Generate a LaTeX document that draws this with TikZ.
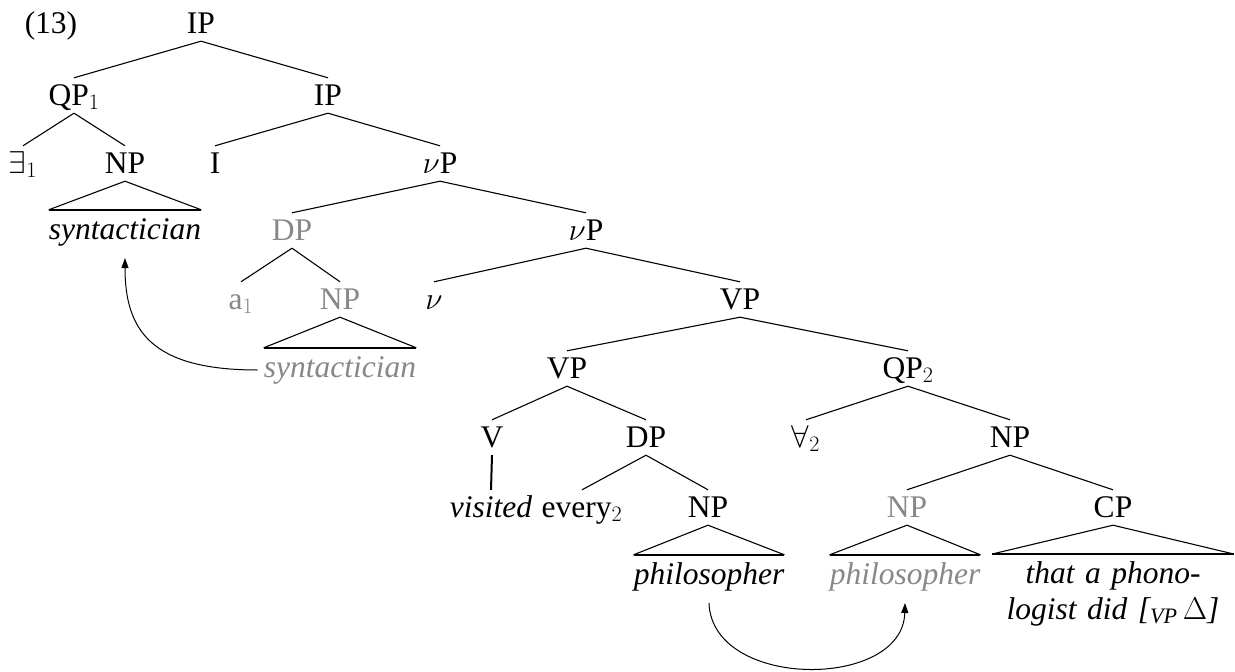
\RequirePackage{fix-cm}
\documentclass[tikz,border=0pt]{standalone}
\usepackage{fontspec}
\setmainfont{Liberation Serif}
\usetikzlibrary{arrows.meta}
\definecolor{trace}{RGB}{136,136,136}

\begin{document}
\begin{tikzpicture}[x=1pt,y=-1pt,
  lab/.style={font=\fontsize{31.5}{36}\selectfont, inner xsep=1pt, inner ysep=8pt,
              text height=19pt, text depth=0pt, anchor=base},
  leaf/.style={font=\fontsize{31.5}{36}\selectfont\itshape, inner sep=0pt,
               text height=29pt, text depth=8pt, anchor=base},
  dim/.style={text=trace},
  branch/.style={line width=1.1pt},
  tribase/.style={line width=2.2pt},
  movement/.style={line width=1pt, -{Triangle[length=10pt,width=7pt]}}
]
\useasboundingbox (0,0) rectangle (1235,672);

% example number
\node[font=\fontsize{31.5}{36}\selectfont, anchor=base] (num) at (51,33) {(13)};

% tree labels
\node[lab] (ip0) at (201,33) {IP};
\node[lab] (qp1) at (74,105) {QP$_1$};
\node[lab] (ip1) at (328,105) {IP};
\node[lab] (ex1) at (23,173) {$\exists_1$};
\node[lab] (np1) at (125,173) {NP};
\node[lab] (ihead) at (215,173) {I};
\node[lab] (vp1) at (440,173) {$\nu$P};
\node[lab,dim] (dp1) at (292,240) {DP};
\node[lab] (vp2) at (586,240) {$\nu$P};
\node[lab,dim] (a1) at (241,309) {a$_1$};
\node[lab,dim] (np2) at (340,309) {NP};
\node[lab] (vhead) at (434,309) {$\nu$};
\node[lab] (vp3) at (740,309) {VP};
\node[lab] (vp4) at (567,378) {VP};
\node[lab] (qp2) at (908,378) {QP$_2$};
\node[lab] (v) at (492,447) {V};
\node[lab] (dp2) at (646,447) {DP};
\node[lab] (all2) at (806,447) {$\forall_2$};
\node[lab] (np3) at (1010,447) {NP};
\node[lab] (visited) at (491,517) {\itshape visited};
\node[lab] (every) at (582,517) {every$_2$};
\node[lab] (np4) at (708,517) {NP};
\node[lab,dim] (np5) at (907,517) {NP};
\node[lab] (cp) at (1113,517) {CP};

% leaves under triangles
\node[leaf] (syn1) at (125,239) {syntactician};
\node[leaf,text=trace] (syn2) at (340,377) {syntactician};
\node[leaf] (phil1) at (709,584) {philosopher};
\node[leaf,text=trace] (phil2) at (905,584) {philosopher};
\node[anchor=north, inner sep=0pt, text width=241pt, align=center,
      font=\fontsize{31.5}{36}\selectfont\itshape] (cpt) at (1113,554)
      {\rule{0pt}{29pt}that a phono-\\logist did [$_{\mathit{VP}}\,\Delta$]};

% branches
\foreach \p/\c in {ip0/qp1, ip0/ip1, qp1/ex1, qp1/np1, ip1/ihead, ip1/vp1,
                   vp1/dp1, vp1/vp2, dp1/a1, dp1/np2, vp2/vhead, vp2/vp3,
                   vp3/vp4, vp3/qp2, vp4/v, vp4/dp2, qp2/all2, qp2/np3,
                   dp2/every, dp2/np4, np3/np5, np3/cp}
  \draw[branch] (\p.south) -- (\c.north);
\draw[line width=2pt] (v.south) -- (visited.north);

% triangles
\foreach \p/\c in {np1/syn1, np2/syn2, np4/phil1, np5/phil2, cp/cpt} {
  \draw[branch] (\c.north west) -- (\p.south) -- (\c.north east);
  \draw[tribase] (\c.north west) -- (\c.north east);
}

% movement arrows
\draw[movement] ([xshift=-6pt,yshift=7pt]syn2.base west)
  .. controls +(-107,0) and +(0,72) .. ([yshift=-19pt]syn1.base);
\draw[movement] ([yshift=-19pt]phil1.base)
  .. controls +(3,87) and +(-2,87) .. ([yshift=-19pt]phil2.base);
\end{tikzpicture}
\end{document}
